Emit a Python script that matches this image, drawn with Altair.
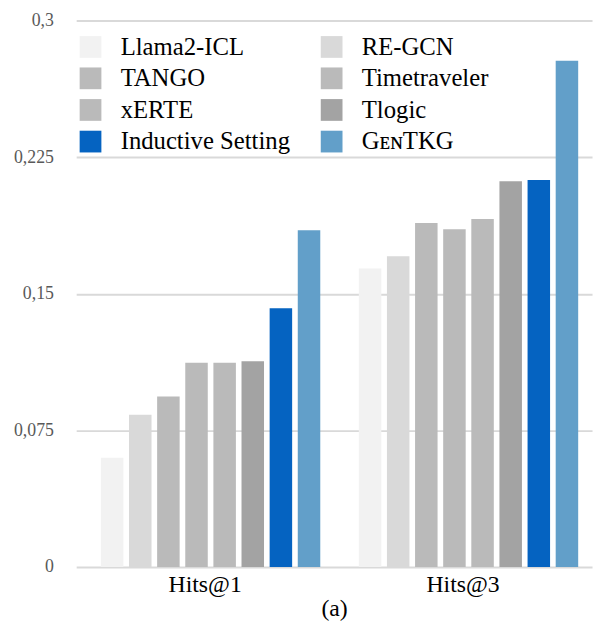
import altair as alt
import pandas as pd

models = ["Llama2-ICL", "RE-GCN", "TANGO", "Timetraveler", "xERTE", "Tlogic",
          "Inductive Setting", "GᴇɴTKG"]
colors = ["#f2f2f2", "#d9d9d9", "#bababa", "#bababa", "#bababa", "#a3a3a3",
          "#0563c1", "#629fc9"]
# legend reads row by row in two columns
legend_order = ["Llama2-ICL", "TANGO", "xERTE", "Inductive Setting",
                "RE-GCN", "Timetraveler", "Tlogic", "GᴇɴTKG"]
metrics = ["Hits@1", "Hits@3"]
hits1 = [0.060, 0.0836, 0.0936, 0.1121, 0.1121, 0.1129, 0.1421, 0.1848]
hits3 = [0.1639, 0.1706, 0.1889, 0.1854, 0.1910, 0.2117, 0.2125, 0.2779]
y_ticks = [0, 0.075, 0.15, 0.225, 0.3]

rows = []
for m, vals in zip(metrics, [hits1, hits3]):
    for model, v in zip(models, vals):
        rows.append({"metric": m, "model": model, "value": v})
df = pd.DataFrame(rows)

serif = "Liberation Serif"

chart = alt.Chart(df).mark_bar().encode(
    x=alt.X("metric:N", sort=metrics,
            scale=alt.Scale(paddingInner=0, paddingOuter=0),
            axis=alt.Axis(title="(a)", labelAngle=0, labelFont=serif,
                          labelFontSize=24, labelColor="#000", labelPadding=6,
                          ticks=False, tickSize=0, domain=False,
                          titleFont=serif, titleFontSize=24,
                          titleFontWeight="normal", titleColor="#000",
                          titlePadding=0)),
    xOffset=alt.XOffset("model:N", sort=models,
                        scale=alt.Scale(range=[25, 247], paddingInner=0.2,
                                        paddingOuter=0)),
    y=alt.Y("value:Q", scale=alt.Scale(domain=[0, 0.3], nice=False),
            axis=alt.Axis(title=None, values=y_ticks,
                          labelExpr="replace(toString(datum.value), '.', ',')",
                          grid=True, gridColor="#d9d9d9", gridWidth=2,
                          domain=False, ticks=False, tickSize=0,
                          labelPadding=23, labelFont=serif, labelFontSize=18,
                          labelColor="#595959")),
    color=alt.Color("model:N",
                    scale=alt.Scale(domain=models, range=colors),
                    legend=alt.Legend(title=None, orient="none", legendX=2,
                                      legendY=14, columns=2,
                                      values=legend_order,
                                      symbolType="square", symbolSize=484,
                                      symbolStrokeWidth=0, labelFont=serif,
                                      labelFontSize=25, labelColor="#000",
                                      labelOffset=18, rowPadding=6,
                                      columnPadding=29, padding=0,
                                      labelLimit=300)),
).properties(
    width=522, height=553,
    padding={"left": 5, "top": 0, "right": 2, "bottom": 0},
).configure_view(stroke=None)

chart.save("out.html", embed_options={"renderer": "svg", "actions": False})
